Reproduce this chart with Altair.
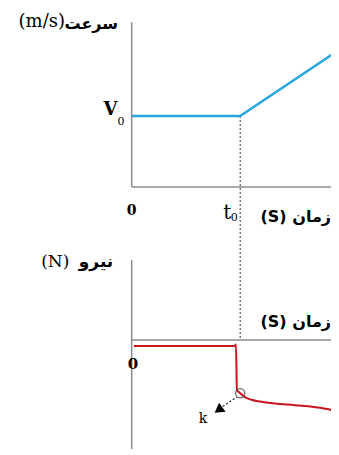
import altair as alt
import pandas as pd

# ---------------- data ----------------
T0 = 1.0           # time t0
V0 = 1.0           # initial speed
T_MAX = 1.91       # right end of the drawn time axis (cut by the frame)

# velocity curve (time, speed)
vel_t = [0.0, 1.0, 1.91]
vel_v = [1.0, 1.0, 1.93]

# force curve (time, force)
force_t = [0.02, 0.947, 0.961, 0.97, 1.0, 1.044, 1.11, 1.183, 1.32, 1.505, 1.69, 1.825, 1.91]
force_f = [-0.15, -0.15, -0.11, -1.25, -1.33, -1.43, -1.5, -1.54, -1.59, -1.63, -1.68, -1.74, -1.8]

# point k on the force curve and its arrow
k_t, k_f = 1.0, -1.33
arrow_t = [0.97, 0.84]
arrow_f = [-1.425, -1.66]
head_t, head_f = 0.8, -1.75

# domains of each panel
XD = [-1.14, 1.837]
VD = [-0.606, 2.521]
FD = [-2.725, 2.7]
V_AXIS_TOP = 2.32
F_AXIS_TOP = 2.0

W = 323
H_TOP = 222
H_BOT = 217

xs = alt.Scale(domain=XD, nice=False, zero=False)
vs = alt.Scale(domain=VD, nice=False, zero=False)
fs = alt.Scale(domain=FD, nice=False, zero=False)

AX = "#8c8c8c"
BLUE = "#29a8df"
RED = "#c8141c"
SERIF = "DejaVu Serif"
SANS = "DejaVu Sans"

def X(f="t"):
    return alt.X(f"{f}:Q", scale=xs, axis=None)

# ---------------- top panel: speed ----------------
top_axes_v = alt.Chart(pd.DataFrame({"t": [0.0], "a": [0.0], "b": [V_AXIS_TOP]})).mark_rule(
    color=AX, strokeWidth=1.5).encode(
    x=X(), y=alt.Y("a:Q", scale=vs, axis=None), y2="b:Q")
top_axes_h = alt.Chart(pd.DataFrame({"v": [0.0], "a": [0.0], "b": [T_MAX]})).mark_rule(
    color=AX, strokeWidth=1.5, clip=True).encode(
    y=alt.Y("v:Q", scale=vs, axis=None), x=X("a"), x2="b:Q")
top_dash = alt.Chart(pd.DataFrame({"t": [T0], "a": [V0], "b": [VD[0]]})).mark_rule(
    color="#333333", strokeWidth=1, strokeDash=[2, 2]).encode(
    x=X(), y=alt.Y("a:Q", scale=vs, axis=None), y2="b:Q")
vel_line = alt.Chart(pd.DataFrame({"t": vel_t, "v": vel_v})).mark_line(
    color=BLUE, strokeWidth=2.5, clip=True).encode(
    x=X(), y=alt.Y("v:Q", scale=vs, axis=None), order="t:Q")

def txt(df, scale, yfield, **kw):
    return alt.Chart(df).mark_text(**kw).encode(
        x=X(), y=alt.Y(f"{yfield}:Q", scale=scale, axis=None), text="s:N")

top_ar = txt(pd.DataFrame({"t": [-0.126], "v": [2.3], "s": ["سرعت"]}), vs, "v",
             align="right", baseline="middle", font=SANS, fontSize=16, fontWeight="bold")
top_unit = txt(pd.DataFrame({"t": [-0.615], "v": [2.32], "s": ["(m/s)"]}), vs, "v",
               align="right", baseline="middle", font=SERIF, fontSize=18)
top_v = txt(pd.DataFrame({"t": [-0.13], "v": [1.08], "s": ["V"]}), vs, "v",
            align="right", baseline="middle", font=SERIF, fontSize=18, fontWeight="bold")
top_v0 = txt(pd.DataFrame({"t": [-0.13], "v": [0.91], "s": ["0"]}), vs, "v",
             align="left", baseline="middle", font=SERIF, fontSize=11)
top_zero = txt(pd.DataFrame({"t": [0.0], "v": [-0.34], "s": ["0"]}), vs, "v",
               align="center", baseline="middle", font=SERIF, fontSize=14, fontWeight="bold")
top_t = txt(pd.DataFrame({"t": [0.88], "v": [-0.37], "s": ["t"]}), vs, "v",
            align="center", baseline="middle", font=SERIF, fontSize=20)
top_t0 = txt(pd.DataFrame({"t": [0.945], "v": [-0.44], "s": ["0"]}), vs, "v",
             align="center", baseline="middle", font=SERIF, fontSize=11)
top_xt = txt(pd.DataFrame({"t": [XD[1]], "v": [-0.42], "s": ["(S) زمان"]}), vs, "v",
             align="right", baseline="middle", font=SANS, fontSize=16, fontWeight="bold")

top = alt.layer(top_axes_v, top_axes_h, top_dash, vel_line, top_ar, top_unit, top_v,
                top_v0, top_zero, top_t, top_t0, top_xt).properties(width=W, height=H_TOP)

# ---------------- bottom panel: force ----------------
bot_axes_v = alt.Chart(pd.DataFrame({"t": [0.0], "a": [FD[0]], "b": [F_AXIS_TOP]})).mark_rule(
    color=AX, strokeWidth=1.5).encode(
    x=X(), y=alt.Y("a:Q", scale=fs, axis=None), y2="b:Q")
bot_axes_h = alt.Chart(pd.DataFrame({"f": [0.0], "a": [0.0], "b": [T_MAX]})).mark_rule(
    color=AX, strokeWidth=1.5, clip=True).encode(
    y=alt.Y("f:Q", scale=fs, axis=None), x=X("a"), x2="b:Q")
bot_dash = alt.Chart(pd.DataFrame({"t": [T0], "a": [FD[1]], "b": [0.0]})).mark_rule(
    color="#333333", strokeWidth=1, strokeDash=[2, 2]).encode(
    x=X(), y=alt.Y("a:Q", scale=fs, axis=None), y2="b:Q")
force_line = alt.Chart(pd.DataFrame({"t": force_t, "f": force_f, "o": list(range(len(force_t)))})).mark_line(
    color=RED, strokeWidth=2, interpolate="monotone", clip=True).encode(
    x=X(), y=alt.Y("f:Q", scale=fs, axis=None), order="o:Q")
k_circle = alt.Chart(pd.DataFrame({"t": [k_t], "f": [k_f]})).mark_point(
    shape="circle", size=85, filled=False, color="#333333", strokeWidth=1.3).encode(
    x=X(), y=alt.Y("f:Q", scale=fs, axis=None))
arrow_line = alt.Chart(pd.DataFrame({"t": arrow_t, "f": arrow_f})).mark_line(
    color="#333333", strokeWidth=1.3, strokeDash=[2, 2]).encode(
    x=X(), y=alt.Y("f:Q", scale=fs, axis=None))
arrow_head = alt.Chart(pd.DataFrame({"t": [head_t], "f": [head_f]})).mark_point(
    shape="triangle-up", size=120, filled=True, color="#000000", opacity=1, angle=234).encode(
    x=X(), y=alt.Y("f:Q", scale=fs, axis=None))

bot_k = txt(pd.DataFrame({"t": [0.657], "f": [-1.975], "s": ["k"]}), fs, "f",
            align="center", baseline="middle", font=SERIF, fontSize=14)
bot_zero = txt(pd.DataFrame({"t": [0.012], "f": [-0.6], "s": ["0"]}), fs, "f",
               align="center", baseline="middle", font=SERIF, fontSize=15, fontWeight="bold")
bot_ar = txt(pd.DataFrame({"t": [-0.17], "f": [1.95], "s": ["نیرو"]}), fs, "f",
             align="right", baseline="middle", font=SANS, fontSize=17, fontWeight="bold")
bot_unit = txt(pd.DataFrame({"t": [-0.575], "f": [1.95], "s": ["(N)"]}), fs, "f",
               align="right", baseline="middle", font=SERIF, fontSize=17)
bot_xt = txt(pd.DataFrame({"t": [XD[1]], "f": [0.45], "s": ["(S) زمان"]}), fs, "f",
             align="right", baseline="middle", font=SANS, fontSize=16, fontWeight="bold")

bottom = alt.layer(bot_axes_v, bot_axes_h, bot_dash, force_line, k_circle, arrow_line,
                   arrow_head, bot_k, bot_zero, bot_ar, bot_unit, bot_xt).properties(width=W, height=H_BOT)

chart = alt.vconcat(top, bottom, spacing=0).properties(padding=0, background="white").configure_view(
    stroke=None)

chart.save("out.html", embed_options={"renderer": "svg", "actions": False})
